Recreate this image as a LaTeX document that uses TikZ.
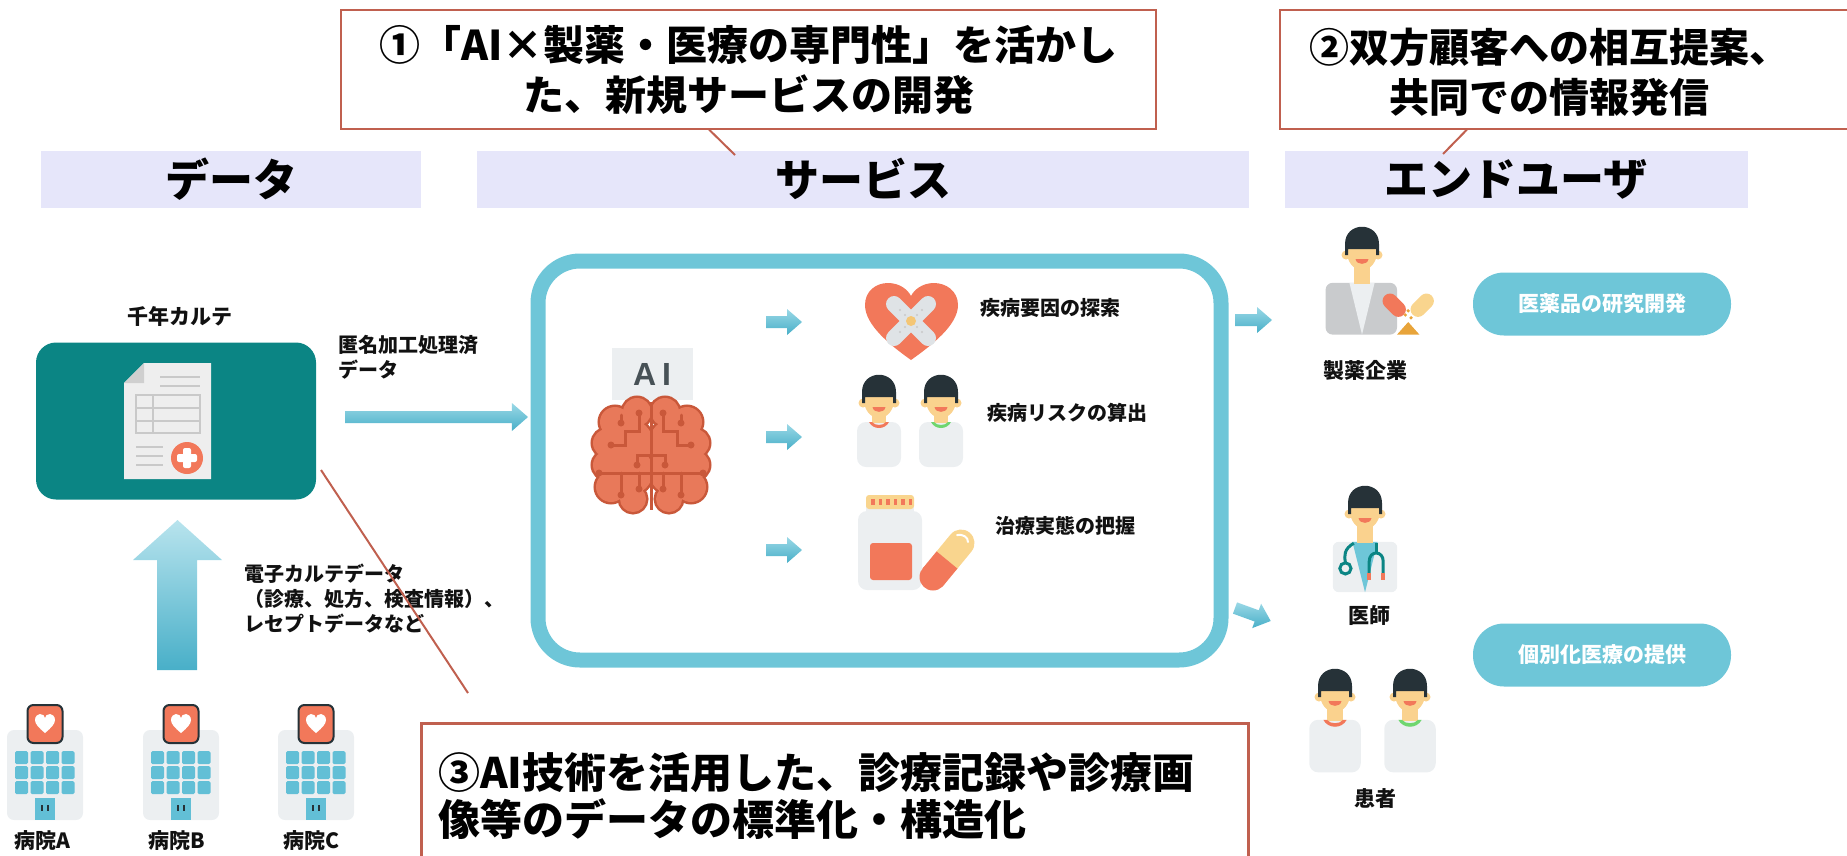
\documentclass[tikz,border=0pt]{standalone}
\usepackage{fontspec}
\setmainfont{Noto Sans CJK JP}
\newfontfamily\latinbold{Liberation Sans}
\usetikzlibrary{calc}

\definecolor{tealbox}{HTML}{0B8584}
\definecolor{sky}{HTML}{6EC6D8}
\definecolor{arrtop}{HTML}{9AD8E6}
\definecolor{arrbot}{HTML}{48AFC8}
\definecolor{orng}{HTML}{F2785A}
\definecolor{hairc}{HTML}{263238}
\definecolor{skin}{HTML}{FAD28E}
\definecolor{cloth}{HTML}{ECEFF1}
\definecolor{lav}{HTML}{E6E6FA}
\definecolor{brick}{HTML}{C0604F}
\definecolor{brainc}{HTML}{E8795A}
\definecolor{braind}{HTML}{C9583A}
\definecolor{win}{HTML}{62BFD6}
\definecolor{grn}{HTML}{6FD66F}
\definecolor{suit}{HTML}{C9CBCD}
\definecolor{paper}{HTML}{EEEEEE}
\definecolor{fold}{HTML}{CFCFCF}
\definecolor{rulec}{HTML}{C9C9C9}
\definecolor{cream}{HTML}{F9D58E}
\definecolor{gold}{HTML}{E8A43A}
\definecolor{bandage}{HTML}{DFE3E6}
\definecolor{ink}{HTML}{111111}

% flat block arrow: x0, x1, y, half shaft, half head
\newcommand\flatarrow[5]{%
  \shade[top color=arrtop, bottom color=arrbot]
    (#1,#3-#4) -- (#2-1.15*#5,#3-#4) -- (#2-1.15*#5,#3-#5) -- (#2,#3)
    -- (#2-1.15*#5,#3+#5) -- (#2-1.15*#5,#3+#4) -- (#1,#3+#4) -- cycle;}

\tikzset{
  callout/.style={draw=brick, line width=2.5pt, fill=white, inner sep=0pt},
  pointer/.style={draw=brick, line width=2pt},
  header/.style={fill=lav, minimum height=57pt, inner sep=0pt,
    font=\fontsize{44}{50}\selectfont\bfseries},
  pill/.style={fill=sky, rounded corners=31pt, minimum width=258pt,
    minimum height=63pt, inner sep=0pt, text=white,
    font=\fontsize{21}{24}\selectfont\bfseries},
  lbl/.style={inner sep=0pt, text=ink, font=\fontsize{21}{24}\selectfont\bfseries},
  small/.style={inner sep=0pt, text=ink, align=left,
    font=\fontsize{20}{25}\selectfont\bfseries},
  pics/head/.style={code={
    \fill[skin] (-16,3) circle[radius=4.5];
    \fill[skin] (16,3) circle[radius=4.5];
    \fill[skin] (0,0) ellipse[x radius=15, y radius=18];
    \fill[hairc] (-17,3) -- (-17,-8) .. controls (-17,-31) and (17,-31) .. (17,-8)
      -- (17,3) -- (14,3) -- (14,-3) -- (-14,-3) -- (-14,3) -- cycle;
    \fill[orng] (-6.5,7) .. controls (-5.5,13.5) and (5.5,13.5) .. (6.5,7) -- cycle;
  }},
  pics/patient/.style={code={
    \fill[cloth, rounded corners=9pt] (-22,22) rectangle (22,67);
    \fill[skin] (-7,12) rectangle (7,23);
    \fill[#1] (-10,22) .. controls (-6,30) and (6,30) .. (10,22) -- (7,22)
      .. controls (4,26) and (-4,26) .. (-7,22) -- cycle;
    \pic {head};
  }},
  pics/doctor/.style={code={
    \fill[cloth, rounded corners=6pt] (-23,22) rectangle (23,58);
    \fill[sky] (-9,22) -- (9,22) -- (0,58) -- cycle;
    \fill[skin] (-6,10) rectangle (6,23);
    \pic {head};
    \draw[tealbox, line width=3pt] (-8,23) .. controls (-15,27) and (-15,32) .. (-14,37);
    \draw[tealbox, line width=3pt, fill=cloth] (-14,41) circle[radius=4];
    \draw[tealbox, line width=3pt] (8,23) -- (8,29);
    \draw[tealbox, line width=3pt] (3,45) -- (3,36) .. controls (3,28) and (13,28) .. (13,36) -- (13,45);
    \fill[orng] (1.5,44) rectangle (4.5,49);
    \fill[orng] (11.5,44) rectangle (14.5,49);
  }},
  pics/pharma/.style={code={
    \fill[suit, rounded corners=7pt] (-26,22) rectangle (25,59);
    \fill[cloth] (-9,22) -- (9,22) -- (0,59) -- cycle;
    \fill[skin] (-6,10) rectangle (6,23);
    \pic {head};
    \draw[orng, line width=15pt, line cap=round] (20,35) -- (26,41);
    \draw[cream, line width=15pt, line cap=round] (46,35) -- (40,41);
    \fill[gold] (25,59) -- (33,50) -- (41,59) -- cycle;
    \fill[gold] (31,45) circle[radius=1.3];
    \fill[gold] (35,47) circle[radius=1.3];
    \fill[gold] (33,42) circle[radius=1.3];
  }},
  pics/hospital/.style={code={
    \fill[cloth, rounded corners=7pt] (-38,25) rectangle (38,115);
    \foreach \cx in {-30,-14.5,1,16.5}
      \foreach \ry in {46,61,76}
        \fill[win, rounded corners=1.5pt] (\cx,\ry) rectangle (\cx+13,\ry+13);
    \fill[win] (-10,93) rectangle (10,115);
    \draw[hairc, line width=1.5pt] (-3,100) -- (-3,106) (3,100) -- (3,106);
    \filldraw[fill=orng, draw=hairc, line width=2pt, rounded corners=6pt] (-17.5,0) rectangle (17.5,38);
    \fill[white] (0,28) .. controls (-6,23) and (-10,19) .. (-10,15) .. controls (-10,11) and (-7,9) .. (-5,9)
      .. controls (-2,9) and (0,11) .. (0,13) .. controls (0,11) and (2,9) .. (5,9)
      .. controls (7,9) and (10,11) .. (10,15) .. controls (10,19) and (6,23) .. (0,28) -- cycle;
  }}
}

\begin{document}
\begin{tikzpicture}[x=1pt,y=-1pt]
\useasboundingbox (0,0) rectangle (1847,855);
\clip (0,0) rectangle (1847,855);

% ---------- column headers ----------
\node[header, minimum width=380pt] (hdata) at (231,179) {データ};
\node[header, minimum width=772pt] (hserv) at (863,179) {サービス};
\node[header, minimum width=463pt] (huser) at (1516,179) {エンドユーザ};

% ---------- callouts ----------
\node[callout, minimum width=815pt, minimum height=119pt, align=center,
      font=\fontsize{41}{50}\selectfont\bfseries] (c1) at (748.5,69.5)
      {①「AI×製薬・医療の専門性」を活かし\\た、新規サービスの開発};
\coordinate (c1base) at (709,129.5);
\coordinate (c1tip) at (735,155);
\draw[pointer] (c1base) -- (c1tip);

\node[callout, minimum width=580pt, minimum height=119pt] (c2) at (1570,69.5) {};
\node[align=center, inner sep=0pt, font=\fontsize{40}{50}\selectfont\bfseries]
      (c2t) at (1549,72) {②双方顧客への相互提案、\\共同での情報発信};
\coordinate (c2base) at (1467,129.5);
\coordinate (c2tip) at (1443,154);
\draw[pointer] (c2base) -- (c2tip);

% ---------- data column ----------
\node[lbl] (kname) at (180,316) {千年カルテ};
\node[fill=tealbox, rounded corners=20pt, minimum width=280pt, minimum height=157pt,
      inner sep=0pt] (karte) at (176,421) {};
% record sheet
\fill[paper] (144,363) -- (211,363) -- (211,479) -- (124,479) -- (124,383) -- cycle;
\fill[fold] (144,363) -- (144,383) -- (124,383) -- cycle;
\draw[rulec, line width=2.5pt] (160,377) -- (200,377) (160,386) -- (200,386);
\draw[rulec, line width=2pt] (136,395) rectangle (200,433)
      (136,408) -- (200,408) (136,421) -- (200,421) (153,395) -- (153,433);
\draw[rulec, line width=2.5pt] (136,447) -- (163,447) (136,456) -- (163,456) (136,465) -- (163,465);
\fill[orng] (187,458) circle[radius=16];
\fill[white, rounded corners=2pt] (183,448) rectangle (191,468);
\fill[white, rounded corners=2pt] (177,454) rectangle (197,462);

\node[small, anchor=west] (anon) at (338,357) {匿名加工処理済\\データ};
\flatarrow{345}{528}{417}{6}{14}

% hospitals
\pic at (45,705) {hospital};
\pic at (181,705) {hospital};
\pic at (316,705) {hospital};
\node[lbl] (hA) at (42,841) {病院A};
\node[lbl] (hB) at (177,841) {病院B};
\node[lbl] (hC) at (311,841) {病院C};

\shade[top color=arrtop!70!white, bottom color=arrbot]
  (157,670) -- (157,560) -- (133,560) -- (177.5,520) -- (222,560) -- (197,560) -- (197,670) -- cycle;
\node[small, anchor=west] (emr) at (244,599)
  {電子カルテデータ\\（診療、処方、検査情報）、\\レセプトデータなど};

\coordinate (c3tip) at (321,470);
\coordinate (c3base) at (468,693);
\draw[pointer] (c3tip) -- (c3base);

% ---------- service box ----------
\node[draw=sky, line width=15pt, rounded corners=42pt, minimum width=683pt,
      minimum height=399pt, inner sep=0pt] (aibox) at (879.5,460.5) {};

% AI brain
\fill[cloth] (612,348) rectangle (693,400);
\node[inner sep=0pt, text=hairc!85!white, font=\latinbold\bfseries\fontsize{32}{32}\selectfont]
  (ai) at (652,374) {A\hspace{6pt}I};
\foreach \dx/\dy/\r in {-14/-43/14, -36/-33/15, -44/-12/14, -44/10/14, -40/32/15,
                        -18/44/13, -22/-12/24, -22/16/24} {
  \draw[braind, line width=5pt] (651+\dx,455+\dy) circle[radius=\r];
  \draw[braind, line width=5pt] (651-\dx,455+\dy) circle[radius=\r];
}
\foreach \dx/\dy/\r in {-14/-43/14, -36/-33/15, -44/-12/14, -44/10/14, -40/32/15,
                        -18/44/13, -22/-12/24, -22/16/24} {
  \fill[brainc] (651+\dx,455+\dy) circle[radius=\r];
  \fill[brainc] (651-\dx,455+\dy) circle[radius=\r];
}
\draw[braind, line width=3pt] (651,402) -- (651,510);
\foreach \s in {-1,1} {
  \begin{scope}[shift={(651,455)}, xscale=\s]
    \draw[braind, line width=3pt, line cap=round]
      (-12,-42) -- (-12,-24) -- (-26,-24) -- (-26,-10) -- (-40,-10)
      (0,0) -- (-14,0) -- (-14,10)
      (-52,18) -- (0,18)
      (-30,18) -- (-30,40)
      (-12,18) -- (-12,34)
      (-30,-40) -- (-30,-32);
    \fill[braind] (-12,-42) circle[radius=3.5] (-40,-10) circle[radius=3.5]
      (-14,10) circle[radius=3.5] (-52,18) circle[radius=3.5]
      (-30,40) circle[radius=3.5] (-12,34) circle[radius=3.5]
      (-30,-32) circle[radius=3.5];
  \end{scope}
}

% inner arrows
\flatarrow{766}{802}{322}{6}{13}
\flatarrow{766}{802}{437}{6}{13}
\flatarrow{766}{802}{550}{6}{13}

% heart with bandage
\fill[orng] (911,360) .. controls (890,345) and (865,325) .. (865,305)
  .. controls (865,291) and (876,283) .. (888,283) .. controls (900,283) and (908,290) .. (911,296)
  .. controls (914,290) and (922,283) .. (934,283) .. controls (946,283) and (958,291) .. (958,305)
  .. controls (958,325) and (932,345) .. (911,360) -- cycle;
\draw[bandage, line width=16pt, line cap=round] (894,304) -- (928,338) (928,304) -- (894,338);
\foreach \px/\py in {900/310, 922/310, 900/332, 922/332, 905/315, 917/315, 905/327, 917/327}
  \fill[rulec] (\px,\py) circle[radius=1.2];
\fill[cream!70!gold] (911,321) circle[radius=5];
\node[lbl, anchor=west, font=\fontsize{20}{24}\selectfont\bfseries] (t1) at (980,308) {疾病要因の探索};

% two patients
\pic at (879,400) {patient=orng};
\pic at (941,400) {patient=grn};
\node[lbl, anchor=west, font=\fontsize{20}{24}\selectfont\bfseries] (t2) at (987,413) {疾病リスクの算出};

% bottle and capsule
\fill[cloth, rounded corners=9pt] (858,511) rectangle (922,590);
\fill[cloth] (866,505) rectangle (914,515);
\fill[cream, rounded corners=3pt] (866,495) rectangle (914,509);
\foreach \i in {0,...,5} \fill[orng] (871+\i*7.5,499) rectangle (874.5+\i*7.5,505);
\fill[orng, rounded corners=3pt] (870,543) rectangle (912,580);
\draw[cream, line width=27pt, line cap=round] (947,560) -- (961,543);
\draw[orng, line width=27pt] (933,577) -- (947,560);
\fill[orng] (933,577) circle[radius=13.5];
\draw[white, line width=2pt, line cap=round] (957,535) .. controls (963,534) and (968,537) .. (968,542);
\node[lbl, anchor=west, font=\fontsize{20}{24}\selectfont\bfseries] (t3) at (995,526) {治療実態の把握};

% ---------- end users ----------
\flatarrow{1235}{1272}{320}{6}{13}
\begin{scope}[shift={(1235,608)}, rotate=-20]
  \flatarrow{0}{38}{0}{6}{13}
\end{scope}

\pic[scale=1.4] at (1362,252) {pharma};
\node[lbl] (ph) at (1365,370) {製薬企業};
\pic[scale=1.4] at (1365,511) {doctor};
\node[lbl] (dr) at (1369,616) {医師};
\pic[scale=1.17] at (1335,694) {patient=orng};
\pic[scale=1.17] at (1410,694) {patient=grn};
\node[lbl] (pt) at (1375,799) {患者};

\node[pill] (rnd) at (1602,304) {医薬品の研究開発};
\node[pill] (pm) at (1602,655) {個別化医療の提供};

% ---------- callout 3 ----------
\node[callout, anchor=north west, minimum width=827pt, minimum height=160pt] (c3) at (420,722) {};
\node[anchor=west, align=left, inner sep=0pt, font=\fontsize{42}{47}\selectfont\bfseries]
  (c3t) at (438,796) {③AI技術を活用した、診療記録や診療画\\像等のデータの標準化・構造化};
\end{tikzpicture}
\end{document}
